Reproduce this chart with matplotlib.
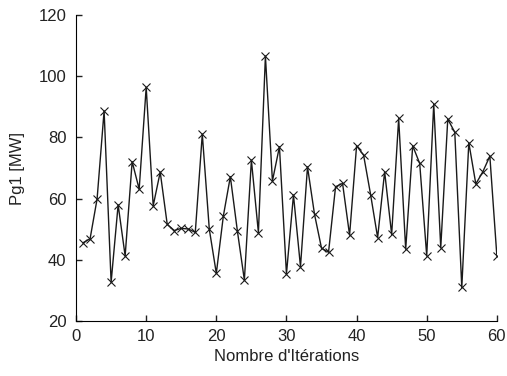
import matplotlib
matplotlib.use("Agg")
import matplotlib.pyplot as plt

iterations = list(range(1, 61))
pg1 = [45.6, 46.9, 59.9, 88.7, 32.7, 58.0, 41.3, 72.1, 63.1, 96.4,
       57.7, 68.7, 51.6, 49.6, 50.3, 50.1, 49.0, 81.1, 50.0, 35.6,
       54.3, 67.2, 49.5, 33.4, 72.6, 48.9, 106.6, 65.8, 77.0, 35.4,
       61.2, 37.8, 70.4, 54.9, 43.8, 42.5, 63.9, 65.0, 48.1, 77.3,
       74.2, 61.3, 47.3, 68.8, 48.3, 86.2, 43.5, 77.3, 71.5, 41.3,
       90.9, 44.0, 86.0, 81.7, 31.0, 78.3, 64.8, 68.8, 73.9, 41.3]
xticks = [0, 10, 20, 30, 40, 50, 60]
yticks = [20, 40, 60, 80, 100, 120]

plt.rcParams['font.family'] = ['Liberation Sans', 'DejaVu Sans']
fig = plt.figure(figsize=(5.07, 3.76), dpi=100)
ax = fig.add_axes([0.150, 0.146, 0.830, 0.814])
ax.plot(iterations, pg1, color='#1a1a1a', linewidth=1.0, marker='x',
        markersize=6, markeredgewidth=0.8)
ax.set_xlim(0, 60)
ax.set_ylim(20, 120)
ax.set_xticks(xticks)
ax.set_yticks(yticks)
ax.spines['top'].set_visible(False)
ax.spines['right'].set_visible(False)
ax.tick_params(direction='in', length=4, width=1, labelsize=12, colors='#222222')
ax.tick_params(axis='x', pad=6)
ax.tick_params(axis='y', pad=7)
ax.set_xlabel("Nombre d'Itérations", fontsize=12, labelpad=3, color='#222222')
ax.set_ylabel("Pg1 [MW]", fontsize=12, labelpad=10, color='#222222')
fig.savefig("out.png", dpi=100)
